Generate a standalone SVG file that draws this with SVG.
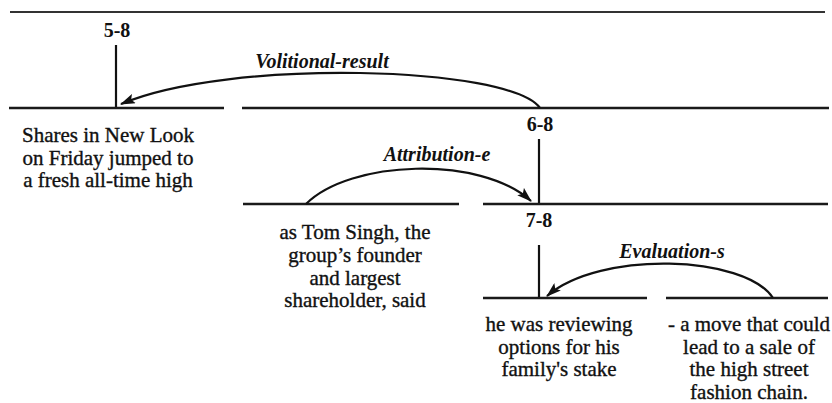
<svg xmlns="http://www.w3.org/2000/svg" width="832" height="403" viewBox="0 0 832 403">
<style>
.bar{stroke:#1a1a1a;stroke-width:2.6;fill:none}
.vert{stroke:#111;stroke-width:2.2;fill:none}
.arc{stroke:#111;stroke-width:2.2;fill:none;marker-end:url(#ah)}
.txt{font-family:"Liberation Serif","Times New Roman",serif;font-size:21px;fill:#111;stroke:#111;stroke-width:0.35;text-anchor:middle}
.num{font-family:"Liberation Serif","Times New Roman",serif;font-size:20px;font-weight:bold;fill:#111;text-anchor:middle}
.rel{font-family:"Liberation Serif","Times New Roman",serif;font-size:20px;font-weight:bold;font-style:italic;fill:#111;text-anchor:middle}
</style>
<defs>
<marker id="ah" viewBox="0 0 15 10" refX="14" refY="5" markerWidth="15" markerHeight="10" markerUnits="userSpaceOnUse" orient="auto">
<path d="M0,0 L15,5 L0,10 L3,5 Z" fill="#111"/>
</marker>
</defs>
<rect width="832" height="403" fill="#fff"/>
<line x1="10" y1="12" x2="825" y2="12" stroke="#333" stroke-width="2"/>
<g id="n58">
<text class="num" x="117" y="37">5-8</text>
<line class="vert" x1="116" y1="45" x2="116" y2="108"/>
<line class="bar" x1="9" y1="108" x2="224" y2="108"/>
</g>
<g id="n5">
<text class="txt" x="108" y="142">Shares in New Look</text>
<text class="txt" x="108" y="164.5">on Friday jumped to</text>
<text class="txt" x="108" y="187">a fresh all-time high</text>
</g>
<g id="n68">
<line class="bar" x1="242" y1="108" x2="829" y2="108"/>
<text class="num" x="540" y="131">6-8</text>
<line class="vert" x1="539" y1="139" x2="539" y2="204"/>
</g>
<g id="n6">
<line class="bar" x1="243" y1="204" x2="459" y2="204"/>
<text class="txt" x="355" y="239">as Tom Singh, the</text>
<text class="txt" x="355" y="262">group’s founder</text>
<text class="txt" x="355" y="284.5">and largest</text>
<text class="txt" x="355" y="307">shareholder, said</text>
</g>
<g id="n78">
<line class="bar" x1="483" y1="204" x2="828" y2="204"/>
<text class="num" x="539" y="227">7-8</text>
<line class="vert" x1="539" y1="245" x2="539" y2="298"/>
</g>
<g id="n7">
<line class="bar" x1="483" y1="298" x2="647" y2="298"/>
<text class="txt" x="559" y="331">he was reviewing</text>
<text class="txt" x="559" y="353.5">options for his</text>
<text class="txt" x="559" y="376">family's stake</text>
</g>
<g id="n8">
<line class="bar" x1="666" y1="298" x2="828" y2="298"/>
<text class="txt" x="749" y="331">- a move that could</text>
<text class="txt" x="749" y="353.5">lead to a sale of</text>
<text class="txt" x="749" y="376">the high street</text>
<text class="txt" x="749" y="398.5">fashion chain.</text>
</g>
<g id="connectors">
<path class="arc" d="M540,108 C510,66 230,58 121,104"/>
<path class="arc" d="M306,204 C350,160 480,155 531,201"/>
<path class="arc" d="M773,298 C745,255 600,250 547,296"/>
<text class="rel" x="322" y="68">Volitional-result</text>
<text class="rel" x="437" y="161">Attribution-e</text>
<text class="rel" x="672" y="258">Evaluation-s</text>
</g>
</svg>
